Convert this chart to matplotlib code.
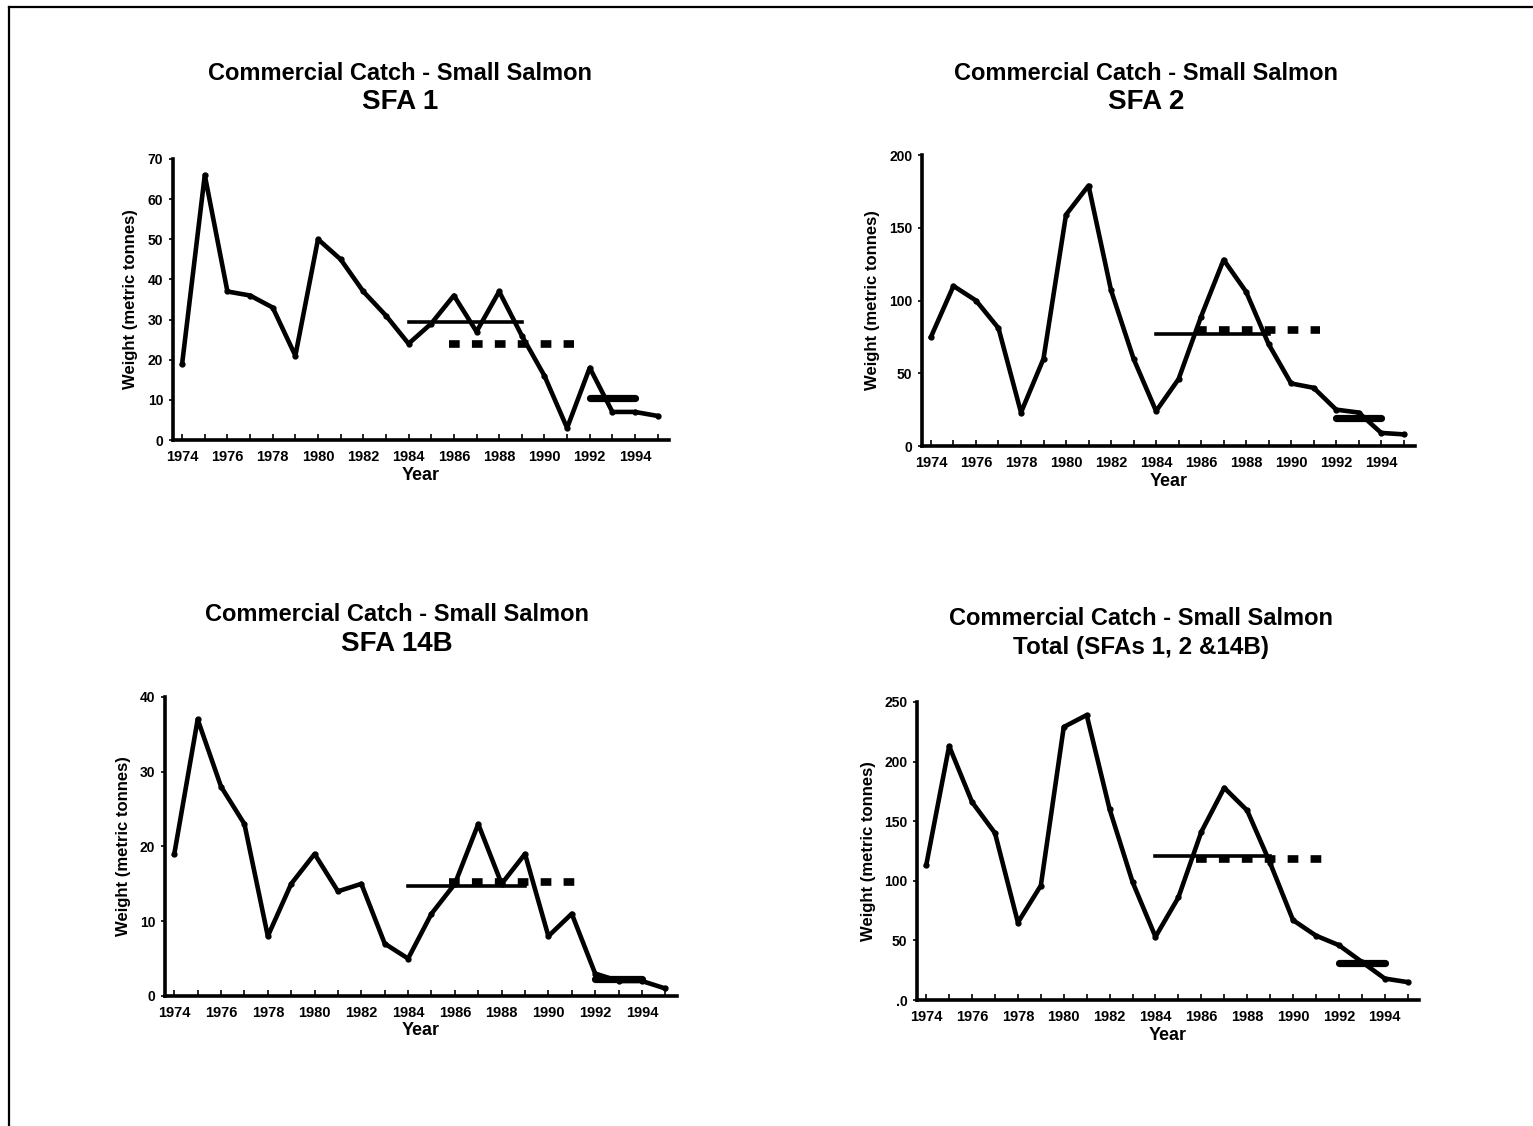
import numpy as np
import matplotlib.pyplot as plt
from matplotlib.lines import Line2D

plt.rcParams['font.family'] = ['Liberation Sans', 'DejaVu Sans']
plt.rcParams['font.weight'] = 'bold'

years = np.arange(1974, 1996)

sfa1 = [19, 66, 37, 36, 33, 21, 50, 45, 37, 31, 24, 29, 36, 27, 37, 26, 16, 3, 18, 7, 7, 6]
sfa2 = [75, 110, 100, 81, 23, 60, 159, 179, 107, 60, 24, 46, 89, 128, 106, 70, 43, 40, 25, 23, 9, 8]
sfa14b = [19, 37, 28, 23, 8, 15, 19, 14, 15, 7, 5, 11, 15, 23, 15, 19, 8, 11, 3, 2, 2, 1]
total = [113, 213, 166, 140, 65, 96, 229, 239, 160, 99, 53, 86, 141, 178, 159, 115, 67, 54, 46, 32, 18, 15]

# period means: 1984-89 (solid), 1986-91 (dotted), 1992-94 (thick)
mean_8489 = [29.5, 77, 14.7, 121]
mean_8691 = [24, 80, 15.2, 118]
mean_9294 = [10.5, 19, 2.3, 31]

subtitles = ['SFA 1', 'SFA 2', 'SFA 14B', 'Total (SFAs 1, 2 &14B)']
ymax = [70, 200, 40, 250]
ystep = [10, 50, 10, 50]

# axes boxes in figure fractions: left, bottom, width, height
boxes = [
    [0.1129, 0.6092, 0.3235, 0.2496],
    [0.6014, 0.6039, 0.3216, 0.2584],
    [0.1076, 0.1155, 0.3340, 0.2655],
    [0.5982, 0.1119, 0.3275, 0.2647],
]
title_xy = [(0.261, 0.935), (0.7475, 0.935), (0.259, 0.454), (0.744, 0.451)]
ylabel_x = [-0.070, -0.085, -0.067, -0.082]

fig = plt.figure(figsize=(15.33, 11.26), dpi=100)

series = [sfa1, sfa2, sfa14b, total]
for i, vals in enumerate(series):
    ax = fig.add_axes(boxes[i])
    ax.plot(years, vals, color='black', lw=3.3, marker='o', ms=3.5,
            solid_joinstyle='round', zorder=3)
    ax.plot([1984, 1989], [mean_8489[i]] * 2, color='black', lw=2.6, zorder=4)
    ax.plot([1985.77, 1991.3], [mean_8691[i]] * 2, color='black', lw=5.5,
            dashes=(1.4, 1.6), zorder=4)
    ax.plot([1992, 1994], [mean_9294[i]] * 2, color='black', lw=5.2,
            solid_capstyle='round', zorder=4)

    ax.set_xlim(1973.6, 1995.5)
    ax.set_ylim(0, ymax[i])
    ax.set_xticks(np.arange(1974, 1996, 2))
    ax.set_xticks(years, minor=True)
    ax.set_yticks(np.arange(0, ymax[i] + 1, ystep[i]))
    if i == 3:
        ax.set_yticklabels(['.0'] + [str(v) for v in range(50, 251, 50)])
    ax.tick_params(axis='x', which='both', direction='in', length=4, width=1.2,
                   labelsize=10.5, pad=7)
    ax.tick_params(axis='y', direction='out', length=3, width=1.2,
                   labelsize=10, pad=4)
    for lbl in ax.get_xticklabels() + ax.get_yticklabels():
        lbl.set_fontweight('bold')
    for s in ['top', 'right']:
        ax.spines[s].set_visible(False)
    for s in ['left', 'bottom']:
        ax.spines[s].set_linewidth(2.6)
    ax.set_xlabel('Year', fontsize=13, fontweight='bold', labelpad=2)
    ax.set_ylabel('Weight (metric tonnes)', fontsize=12, fontweight='bold')
    ax.yaxis.set_label_coords(ylabel_x[i], 0.5)

    tx, ty = title_xy[i]
    fig.text(tx, ty, 'Commercial Catch - Small Salmon', ha='center', va='center',
             fontsize=17, fontweight='bold')
    sub_size = 17.5 if i == 3 else 20
    fig.text(tx, ty - 0.026, subtitles[i], ha='center', va='center',
             fontsize=sub_size, fontweight='bold')

# page frame
fig.add_artist(Line2D([0.006, 0.006], [0.0, 0.994], color='black', lw=1.6,
                      transform=fig.transFigure))
fig.add_artist(Line2D([0.006, 1.0], [0.994, 0.994], color='black', lw=1.6,
                      transform=fig.transFigure))

fig.savefig('out.png', dpi=100, facecolor='white')
